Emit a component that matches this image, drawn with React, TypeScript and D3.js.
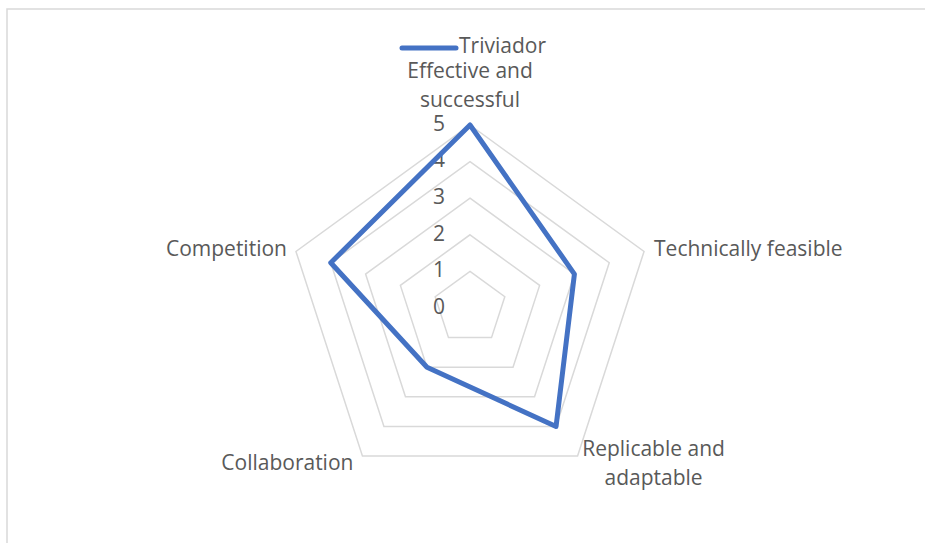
import React, { useRef, useEffect } from 'react';
import * as d3 from 'd3';

// categories (clockwise from top) and the single series
const categories = [
    ['Effective and', 'successful'],
    ['Technically feasible'],
    ['Replicable and', 'adaptable'],
    ['Collaboration'],
    ['Competition'],
];
const seriesName = 'Triviador';
const seriesValues = [5, 3, 4, 2, 4];
const tickValues = [0, 1, 2, 3, 4, 5];

const App = () => {
    const svgRef = useRef<SVGSVGElement>(null);

    const svg_width = 925;
    const svg_height = 543;
    const cx = 470, cy = 308, radius = 183;
    const blue = '#4472C4';
    const grey = '#d9d9d9';
    const textColor = '#595959';
    const font = "'Open Sans', sans-serif";
    const fontSize = 21;

    useEffect(() => {
        const svg = d3.select(svgRef.current);
        svg.selectAll('*').remove();

        // chart area frame
        svg.append('rect')
            .attr('x', 7).attr('y', 9)
            .attr('width', svg_width).attr('height', svg_height)
            .attr('fill', 'white')
            .attr('stroke', grey).attr('stroke-width', 1.5);

        const r = d3.scaleLinear().domain([0, 5]).range([0, radius]);
        const n = categories.length;
        const angle = (i: number) => (i * 2 * Math.PI) / n;

        const g = svg.append('g').attr('transform', `translate(${cx},${cy})`);

        // grid pentagons
        const ring = d3.lineRadial<number>()
            .angle((_, i) => angle(i))
            .radius(d => r(d))
            .curve(d3.curveLinearClosed);

        tickValues.filter(t => t > 0).forEach(t => {
            g.append('path')
                .attr('d', ring(d3.range(n).map(() => t)))
                .attr('fill', 'none')
                .attr('stroke', grey)
                .attr('stroke-width', 1.5);
        });

        // tick labels along the top axis
        g.selectAll('.tick')
            .data(tickValues)
            .enter()
            .append('text')
            .attr('x', -31)
            .attr('y', d => -r(d))
            .attr('dy', '0.28em')
            .attr('text-anchor', 'middle')
            .attr('fill', textColor)
            .style('font-family', font)
            .style('font-size', fontSize + 'px')
            .text(d => d);

        // data line
        g.append('path')
            .attr('d', ring(seriesValues))
            .attr('fill', 'none')
            .attr('stroke', blue)
            .attr('stroke-width', 5)
            .attr('stroke-linejoin', 'round');

        // category labels: offsets from the outer vertex
        const labelPos = [
            { dx: 0, dy: -54, anchor: 'middle' },
            { dx: 10, dy: -3, anchor: 'start' },
            { dx: 76, dy: -7, anchor: 'middle' },
            { dx: -9, dy: 7, anchor: 'end' },
            { dx: -9, dy: -3, anchor: 'end' },
        ];
        categories.forEach((lines, i) => {
            const a = angle(i);
            const vx = Math.sin(a) * r(5);
            const vy = -Math.cos(a) * r(5);
            const p = labelPos[i];
            const t = g.append('text')
                .attr('text-anchor', p.anchor)
                .attr('fill', textColor)
                .style('font-family', font)
                .style('font-size', fontSize + 'px');
            lines.forEach((line, j) => {
                t.append('tspan')
                    .attr('x', vx + p.dx)
                    .attr('y', vy + p.dy + j * 29)
                    .attr('dy', '0.35em')
                    .text(line);
            });
        });

        // legend
        svg.append('line')
            .attr('x1', 402).attr('x2', 456)
            .attr('y1', 48).attr('y2', 48)
            .attr('stroke', blue)
            .attr('stroke-width', 5)
            .attr('stroke-linecap', 'round');
        svg.append('text')
            .attr('x', 459).attr('y', 46)
            .attr('dy', '0.35em')
            .attr('fill', textColor)
            .style('font-family', font)
            .style('font-size', fontSize + 'px')
            .text(seriesName);
    }, []);

    return (
        <svg ref={svgRef} width={svg_width} height={svg_height}
            style={{ position: 'absolute', left: 0, top: 0, background: 'white' }} />
    );
};

export default App;
